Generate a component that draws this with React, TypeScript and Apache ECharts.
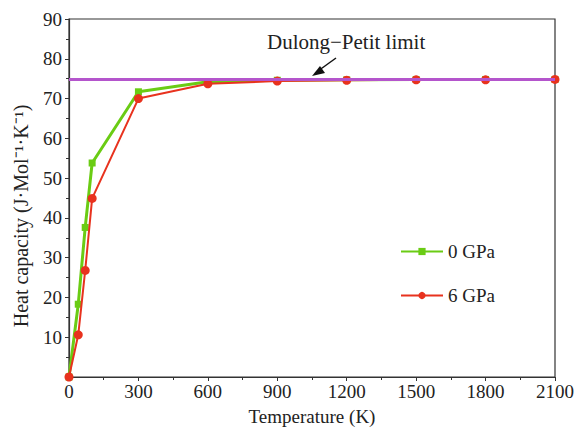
import React, { useEffect, useRef } from "react";
import * as echarts from "echarts";

const temps0 = [0, 40, 70, 100, 300, 600, 900, 1200, 1500, 1800, 2100];
const cap0 = [0, 18.3, 37.6, 53.8, 71.7, 74.2, 74.6, 74.7, 74.8, 74.8, 74.8];
const temps6 = [0, 40, 70, 100, 300, 600, 900, 1200, 1500, 1800, 2100];
const cap6 = [0, 10.6, 26.8, 44.9, 70.0, 73.7, 74.4, 74.6, 74.7, 74.7, 74.8];
const dulongPetit = 74.83;
const seriesNames = ["0 GPa", "6 GPa"];

const FONT = "Liberation Serif";

export default function App() {
  const ref = useRef<HTMLDivElement>(null);
  useEffect(() => {
    if (!ref.current) return;
    const chart = echarts.init(ref.current, undefined, { renderer: "svg" });
    chart.setOption({
      animation: false,
      backgroundColor: "#fff",
      textStyle: { fontFamily: FONT },
      grid: {
        left: 69,
        right: 22,
        top: 19,
        bottom: 52,
        show: true,
        borderColor: "#333",
        borderWidth: 1.2,
        backgroundColor: "transparent",
      },
      legend: {
        orient: "vertical",
        left: 395,
        top: 237,
        itemGap: 25,
        itemWidth: 42,
        itemHeight: 9,
        textStyle: { fontFamily: FONT, fontSize: 19, color: "#222" },
        data: seriesNames,
      },
      xAxis: {
        type: "value",
        min: 0,
        max: 2100,
        interval: 300,
        name: "Temperature (K)",
        nameLocation: "middle",
        nameGap: 30,
        nameTextStyle: { fontFamily: FONT, fontSize: 19, color: "#222" },
        axisLine: { show: true, lineStyle: { color: "#333", width: 1.2 } },
        axisTick: { show: true, inside: false, length: 4, lineStyle: { color: "#333" } },
        minorTick: { show: true, splitNumber: 2, length: 3, lineStyle: { color: "#333" } },
        splitLine: { show: false },
        axisLabel: {
          fontFamily: FONT,
          fontSize: 19,
          color: "#222",
          margin: 5,
          formatter: (v: number) => String(v),
        },
      },
      yAxis: {
        type: "value",
        min: 0,
        max: 90,
        interval: 10,
        name: "Heat capacity (J·Mol⁻¹·K⁻¹)",
        nameLocation: "middle",
        nameGap: 38,
        nameTextStyle: { fontFamily: FONT, fontSize: 20, color: "#222", padding: [0, 36, 0, 0] },
        axisLine: { show: true, lineStyle: { color: "#333", width: 1.2 } },
        axisTick: { show: true, inside: false, length: 4, lineStyle: { color: "#333" } },
        minorTick: { show: true, splitNumber: 2, length: 3, lineStyle: { color: "#333" } },
        splitLine: { show: false },
        axisLabel: {
          fontFamily: FONT,
          fontSize: 19,
          color: "#222",
          margin: 7,
          formatter: (v: number) => (v === 0 ? "" : String(v)),
        },
      },
      series: [
        {
          name: seriesNames[0],
          type: "line",
          data: temps0.map((t, i) => [t, cap0[i]]),
          symbol: "rect",
          symbolSize: 7,
          itemStyle: { color: "#6acc14" },
          lineStyle: { color: "#6acc14", width: 3 },
          z: 3,
        },
        {
          name: seriesNames[1],
          type: "line",
          data: temps6.map((t, i) => [t, cap6[i]]),
          symbol: "circle",
          symbolSize: 9,
          itemStyle: { color: "#e8321e" },
          lineStyle: { color: "#e8321e", width: 2 },
          z: 4,
          markLine: {
            silent: true,
            symbol: ["none", "none"],
            label: { show: false },
            lineStyle: { color: "#b455cc", width: 3, type: "solid" },
            data: [{ yAxis: dulongPetit }],
            z: 5,
          },
        },
      ],
      graphic: [
        {
          type: "text",
          left: 267,
          top: 31,
          style: { text: "Dulong−Petit limit", fontFamily: FONT, fontSize: 21, fill: "#222" },
        },
        {
          type: "line",
          shape: { x1: 336, y1: 58, x2: 318, y2: 71 },
          style: { stroke: "#111", lineWidth: 1.5 },
        },
        {
          type: "polygon",
          shape: { points: [[312, 76], [320, 66], [325, 73]] },
          style: { fill: "#111" },
        },
      ],
    });
    return () => chart.dispose();
  }, []);
  return (
    <div
      ref={ref}
      style={{ position: "fixed", left: 0, top: 0, width: 577, height: 431 }}
    />
  );
}
